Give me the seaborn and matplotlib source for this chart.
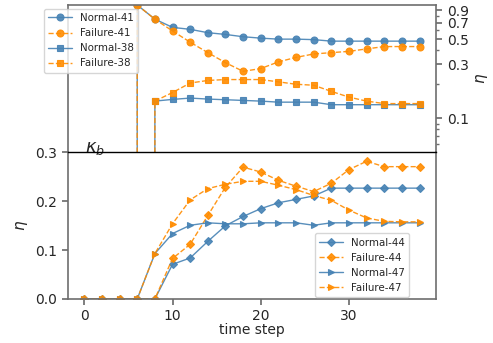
import matplotlib
matplotlib.use("Agg")
import matplotlib.pyplot as plt
import seaborn as sns
from matplotlib.ticker import FixedLocator, NullFormatter

# Datos
steps = [0, 2, 4, 6, 8, 10, 12, 14, 16, 18, 20, 22, 24, 26, 28, 30, 32, 34, 36, 38]

normal_41 = [0, 0, 0, 1.0, 0.75, 0.635, 0.61, 0.57, 0.55, 0.525, 0.51, 0.50, 0.50, 0.495, 0.48, 0.48, 0.48, 0.48, 0.48, 0.48]
failure_41 = [0, 0, 0, 1.0, 0.75, 0.59, 0.47, 0.38, 0.31, 0.26, 0.275, 0.315, 0.345, 0.37, 0.38, 0.39, 0.41, 0.43, 0.43, 0.43]
normal_38 = [0, 0, 0, 0, 0.142, 0.147, 0.151, 0.148, 0.146, 0.144, 0.142, 0.139, 0.139, 0.139, 0.132, 0.132, 0.132, 0.132, 0.132, 0.132]
failure_38 = [0, 0, 0, 0, 0.142, 0.169, 0.205, 0.216, 0.22, 0.22, 0.22, 0.21, 0.20, 0.196, 0.173, 0.154, 0.142, 0.135, 0.135, 0.135]

normal_44 = [0, 0, 0, 0, 0, 0.071, 0.084, 0.118, 0.150, 0.169, 0.185, 0.197, 0.204, 0.211, 0.227, 0.227, 0.227, 0.227, 0.227, 0.227]
failure_44 = [0, 0, 0, 0, 0, 0.083, 0.112, 0.171, 0.229, 0.270, 0.260, 0.243, 0.231, 0.220, 0.237, 0.265, 0.282, 0.271, 0.271, 0.271]
normal_47 = [0, 0, 0, 0, 0.093, 0.134, 0.151, 0.156, 0.154, 0.154, 0.156, 0.156, 0.156, 0.151, 0.156, 0.156, 0.156, 0.156, 0.156, 0.156]
failure_47 = [0, 0, 0, 0, 0.093, 0.154, 0.203, 0.226, 0.235, 0.241, 0.241, 0.233, 0.224, 0.212, 0.202, 0.182, 0.166, 0.159, 0.158, 0.158]

top_ticks = [0.1, 0.3, 0.5, 0.7, 0.9]
top_minor = [0.06, 0.07, 0.08, 0.09, 0.2, 0.4, 0.6, 0.8]
bottom_ticks = [0.0, 0.1, 0.2, 0.3]

BLUE = "#4682b4"
ORANGE = "#ff8c00"
SPINE = "#6e6e6e"

sns.set_theme(style="ticks")
plt.rcParams["font.family"] = ["DejaVu Sans"]

fig = plt.figure(figsize=(4.93, 3.43), dpi=100)
ax_top = fig.add_axes([0.137, 0.5554, 0.748, 0.430])
ax_bot = fig.add_axes([0.137, 0.1283, 0.748, 0.4271])

top_series = [
    ("Normal-41", normal_41, BLUE, "o", "-", 5),
    ("Failure-41", failure_41, ORANGE, "o", "--", 5),
    ("Normal-38", normal_38, BLUE, "s", "-", 4.5),
    ("Failure-38", failure_38, ORANGE, "s", "--", 4.5),
]
bottom_series = [
    ("Normal-44", normal_44, BLUE, "D", "-", 4.5),
    ("Failure-44", failure_44, ORANGE, "D", "--", 4.5),
    ("Normal-47", normal_47, BLUE, ">", "-", 5),
    ("Failure-47", failure_47, ORANGE, ">", "--", 5),
]

for ax, series in [(ax_top, top_series), (ax_bot, bottom_series)]:
    for name, vals, col, mk, ls, ms in series:
        sns.lineplot(
            x=steps, y=vals, ax=ax, color=col, marker=mk, linestyle=ls,
            markersize=ms, markeredgecolor=col, markeredgewidth=0.8,
            linewidth=1.0, alpha=0.9, label=name
        )

# Eje superior: escala logarítmica con etiquetas a la derecha
ax_top.set_yscale("log")
ax_top.set_ylim(0.05, 1.0)
ax_top.set_xlim(-1.9, 39.9)
ax_top.yaxis.set_major_locator(FixedLocator(top_ticks))
ax_top.set_yticklabels([str(t) for t in top_ticks])
ax_top.yaxis.set_minor_locator(FixedLocator(top_minor))
ax_top.yaxis.set_minor_formatter(NullFormatter())
ax_top.yaxis.tick_right()
ax_top.yaxis.set_label_position("right")
ax_top.set_ylabel(r"$\eta$", fontsize=11)
ax_top.tick_params(axis="x", bottom=False, labelbottom=False)
ax_top.tick_params(axis="y", which="major", labelsize=10, length=4, color=SPINE)
ax_top.tick_params(axis="y", which="minor", length=2.5, color=SPINE)
ax_top.spines["bottom"].set_visible(False)
for s in ["top", "left", "right"]:
    ax_top.spines[s].set_color(SPINE)
    ax_top.spines[s].set_linewidth(1.2)

# Eje inferior
ax_bot.set_ylim(0, 0.3)
ax_bot.set_xlim(-1.9, 39.9)
ax_bot.set_yticks(bottom_ticks)
ax_bot.set_xticks([0, 10, 20, 30])
ax_bot.set_ylabel(r"$\eta$", fontsize=11)
ax_bot.set_xlabel("time step", fontsize=10, labelpad=0)
ax_bot.tick_params(labelsize=10, length=4, color=SPINE)
for s in ["bottom", "left", "right"]:
    ax_bot.spines[s].set_color(SPINE)
    ax_bot.spines[s].set_linewidth(1.2)
ax_bot.spines["top"].set_color("black")
ax_bot.spines["top"].set_linewidth(1.0)
ax_bot.spines["top"].set_zorder(5)
ax_bot.text(0.1, 0.3, r"$\kappa_b$", fontsize=13, va="baseline", ha="left")

ax_top.legend(
    loc="upper left", bbox_to_anchor=(0.089, 0.974), bbox_transform=fig.transFigure,
    borderaxespad=0, fontsize=7.4, framealpha=0.8, handlelength=2.3
)
ax_bot.legend(
    loc="lower right", bbox_to_anchor=(0.830, 0.134), bbox_transform=fig.transFigure,
    borderaxespad=0, fontsize=7.4, framealpha=0.8, handlelength=2.3
)

fig.savefig("out.png", dpi=100)
